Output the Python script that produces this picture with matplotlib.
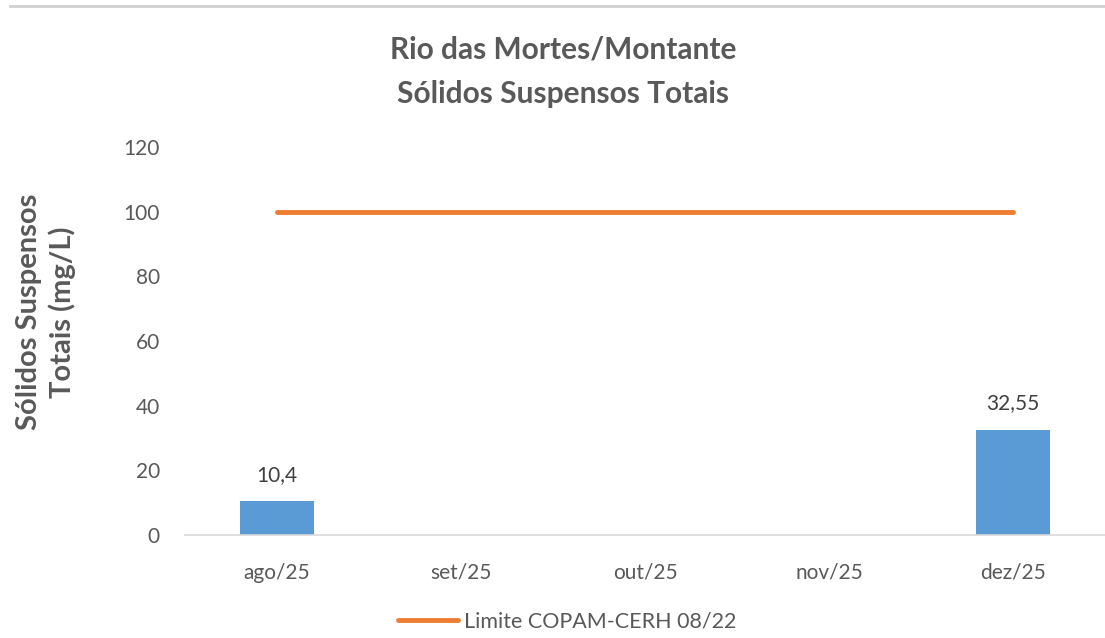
import matplotlib.pyplot as plt
import numpy as np
from matplotlib.lines import Line2D

plt.rcParams['font.family'] = ['Lato', 'DejaVu Sans']

months = ['ago/25', 'set/25', 'out/25', 'nov/25', 'dez/25']
sst = [10.4, None, None, None, 32.55]
sst_labels = ['10,4', '', '', '', '32,55']
limite = [100, 100, 100, 100, 100]

grey = '#595959'
blue = '#5b9bd5'
orange = '#ed7d31'

fig = plt.figure(figsize=(11.05, 6.38), dpi=100)
ax = fig.add_axes([185 / 1105, 1 - 535 / 638, 1 - 185 / 1105, (535 - 147) / 638])

x = np.arange(len(months))
vals = [v if v is not None else 0 for v in sst]
ax.bar(x, vals, width=0.4, color=blue, zorder=2)
for xi, v, lab in zip(x, sst, sst_labels):
    if v is not None:
        ax.annotate(lab, (xi, v), xytext=(0, 12), textcoords='offset points',
                    ha='center', va='bottom', fontsize=15, color='#404040')

ax.plot(x, limite, color=orange, lw=3.5, solid_capstyle='round', zorder=3)

ax.set_xlim(-0.5, 4.5)
ax.set_ylim(0, 120)
ax.set_yticks(range(0, 121, 20))
ax.set_xticks(x)
ax.set_xticklabels(months)
ax.tick_params(axis='both', length=0, labelsize=15, colors=grey)
ax.tick_params(axis='x', pad=20)
ax.tick_params(axis='y', pad=18)
for s in ['top', 'right', 'left']:
    ax.spines[s].set_visible(False)
ax.spines['bottom'].set_color('#d9d9d9')
ax.spines['bottom'].set_linewidth(1.2)

fig.text(46 / 1105, 1 - 312 / 638, 'Sólidos Suspensos\nTotais (mg/L)', rotation=90,
         ha='center', va='center', fontsize=21, fontweight='bold', color=grey,
         linespacing=1.3)

fig.text(563 / 1105, 1 - 50 / 638, 'Rio das Mortes/Montante', ha='center', va='center',
         fontsize=21.5, fontweight='bold', color=grey)
fig.text(563 / 1105, 1 - 94 / 638, 'Sólidos Suspensos Totais', ha='center', va='center',
         fontsize=21.5, fontweight='bold', color=grey)

fig.add_artist(Line2D([10 / 1105, 1], [1 - 6 / 638, 1 - 6 / 638], color='#d0d0d0', lw=2))

handle = Line2D([], [], color=orange, lw=3.5, solid_capstyle='round')
fig.legend([handle], ['Limite COPAM-CERH 08/22'], loc='center', frameon=False,
           bbox_to_anchor=(567 / 1105, 1 - 622 / 638), fontsize=15.5,
           labelcolor=grey, handlelength=2.8, handletextpad=0.25)

fig.savefig('out.png', dpi=100, facecolor='white')
